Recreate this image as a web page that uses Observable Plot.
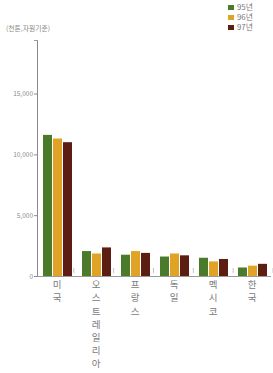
<!DOCTYPE html>
<html><head><meta charset="utf-8">
<script src="https://cdn.jsdelivr.net/npm/d3@7"></script>
<script src="https://cdn.jsdelivr.net/npm/@observablehq/plot@0.6"></script>
<style>
body{margin:0;background:#fff;font-family:"Noto Sans CJK KR","Noto Sans",sans-serif;}
#wrap{position:relative;width:273px;height:373px;overflow:hidden;}
#unit{position:absolute;left:6px;top:23px;font-size:6.8px;color:#8a8a8a;white-space:nowrap;}
#legend{position:absolute;left:228px;top:2px;font-size:7.8px;color:#777;line-height:10px;}
#legend .row{display:flex;align-items:center;}
#legend .sw{width:6px;height:5px;margin-right:3px;}
#chart{position:absolute;left:0;top:0;}
</style></head><body>
<div id="wrap"><div id="chart"></div><div id="unit">(천톤,자원기준)</div><div id="legend"></div></div>
<script>
const countries = ["미국","오스트레일리아","프랑스","독일","멕시코","한국"];
const years = ["95년","96년","97년"];
const v95 = [11600, 2050, 1750, 1600, 1500, 700];
const v96 = [11300, 1850, 2050, 1850, 1200, 850];
const v97 = [11000, 2350, 1900, 1700, 1400, 1000];
const colors = ["#4b7a2b", "#e1a325", "#5c1d13"];
const yTicks = [0, 5000, 10000, 15000];
const yMax = 19400;

const series = [v95, v96, v97];
const data = [];
countries.forEach((c, i) => years.forEach((y, j) => data.push({country: c, year: y, value: series[j][i]})));

const W = 273, H = 373, mL = 34, mR = 0, mT = 40, mB = 97;

const plot = Plot.plot({
  width: W, height: H,
  marginLeft: mL, marginRight: mR, marginTop: mT, marginBottom: mB,
  style: {color: "#8a8a8a", fontFamily: "'Noto Sans CJK KR', 'Noto Sans', sans-serif", fontSize: "6.5px", background: "transparent", overflow: "visible"},
  fx: {domain: countries, paddingInner: 0, paddingOuter: 0, axis: null, label: null},
  x: {domain: years, paddingInner: 0.12, paddingOuter: 0.41, align: 0.6, axis: null, label: null},
  y: {domain: [0, yMax], ticks: yTicks, tickFormat: d3.format(","), tickSize: 3, tickPadding: 1.5, line: true, label: null},
  color: {domain: years, range: colors},
  marks: [
    Plot.barY(data, {fx: "country", x: "year", y: "value", fill: "year"}),
    Plot.ruleY([0], {stroke: "#9a9a9a", strokeWidth: 1.2}),
    Plot.text(countries, {fx: d => d, text: d => [...d].join("\n"), frameAnchor: "bottom", lineAnchor: "top", dy: 2.5, lineHeight: 1.38, fontSize: 9.5, fill: "#7a7a7a"})
  ]
});
document.getElementById("chart").appendChild(plot);

// top bracket and group separators from the plot's own scales
const ys = plot.scale("y"), fs = plot.scale("fx");
const yS = d3.scaleLinear(ys.domain, ys.range);
const fS = d3.scaleBand(fs.domain, fs.range).paddingInner(0).paddingOuter(0);
const svg = d3.select(plot.tagName.toLowerCase() === "svg" ? plot : plot.querySelector("svg"));
const g = svg.append("g").attr("stroke", "#9a9a9a").attr("fill", "none");
const y0 = yS(0), yTop = yS(yMax);
g.append("line").attr("x1", mL).attr("x2", mL + 4).attr("y1", yTop + 0.5).attr("y2", yTop + 0.5);
countries.forEach(c => {
  const xs = fS(c) + fS.bandwidth();
  g.append("line").attr("x1", xs).attr("x2", xs).attr("y1", y0 - 8).attr("y2", y0 - 3).attr("stroke", "#c4c4c4");
});

// legend
const leg = document.getElementById("legend");
years.forEach((y, j) => {
  const r = document.createElement("div"); r.className = "row";
  r.innerHTML = `<span class="sw" style="background:${colors[j]}"></span><span>${y}</span>`;
  leg.appendChild(r);
});
</script>
</body></html>
